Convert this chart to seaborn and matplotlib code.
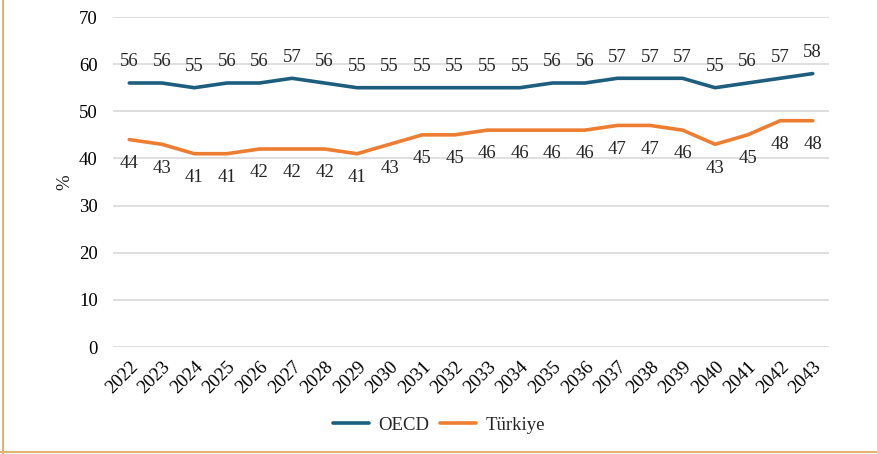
import pandas as pd
import numpy as np
import matplotlib
matplotlib.use('Agg')
import matplotlib.pyplot as plt
import seaborn as sns

years = [str(y) for y in range(2022, 2044)]
oecd = [56, 56, 55, 56, 56, 57, 56, 55, 55, 55, 55, 55, 55, 56, 56, 57, 57, 57, 55, 56, 57, 58]
turkiye = [44, 43, 41, 41, 42, 42, 42, 41, 43, 45, 45, 46, 46, 46, 46, 47, 47, 46, 43, 45, 48, 48]

sns.set_theme(style='white')
plt.rcParams['font.family'] = ['Liberation Serif', 'DejaVu Serif']

df = pd.DataFrame({'year': years * 2,
                   'value': oecd + turkiye,
                   'series': ['OECD'] * len(years) + ['Türkiye'] * len(years)})

colors = {'OECD': '#1d5e7f', 'Türkiye': '#ed7d31'}
fs = 13.5

fig = plt.figure(figsize=(8.78, 4.54), dpi=100)
ax = fig.add_axes([113 / 878, 1 - 347 / 454, (829 - 113) / 878, (347 - 17) / 454])

sns.lineplot(data=df, x='year', y='value', hue='series', palette=colors,
             linewidth=2.6, ax=ax, legend=False, sort=False)

ax.set_xlim(-0.5, len(years) - 0.5)
ax.set_ylim(0, 70)
ax.set_yticks(range(0, 71, 10))
ax.yaxis.grid(True, color='#d9d9d9', linewidth=1.2)
ax.set_axisbelow(True)
for s in ax.spines.values():
    s.set_visible(False)
ax.tick_params(axis='y', length=0, pad=11, labelsize=fs, colors='#000000')
ax.tick_params(axis='x', length=0, pad=8, labelsize=fs, colors='#000000')
plt.setp(ax.get_xticklabels(), rotation=45, ha='right', rotation_mode='anchor')
ax.set_xlabel('')
ax.set_ylabel('%', fontsize=fs, labelpad=4)

for i, v in enumerate(oecd):
    ax.annotate(str(v), (i, v), xytext=(0, 9), textcoords='offset points',
                ha='center', va='bottom', fontsize=fs)
for i, v in enumerate(turkiye):
    ax.annotate(str(v), (i, v), xytext=(0, -11), textcoords='offset points',
                ha='center', va='top', fontsize=fs)

handles = [plt.Line2D([], [], color=colors[k], linewidth=2.6) for k in colors]
fig.legend(handles, list(colors), loc='center', bbox_to_anchor=(0.5, 1 - 425 / 454),
           ncol=2, frameon=False, fontsize=fs, handlelength=1.9, handletextpad=0.5,
           columnspacing=0.6)

border = '#e0b470'
fig.add_artist(plt.Line2D([3 / 878, 3 / 878], [0, 1], color=border, linewidth=1.5))
fig.add_artist(plt.Line2D([0, 1], [2 / 454, 2 / 454], color=border, linewidth=1.5))

fig.savefig('out.png', dpi=100)
